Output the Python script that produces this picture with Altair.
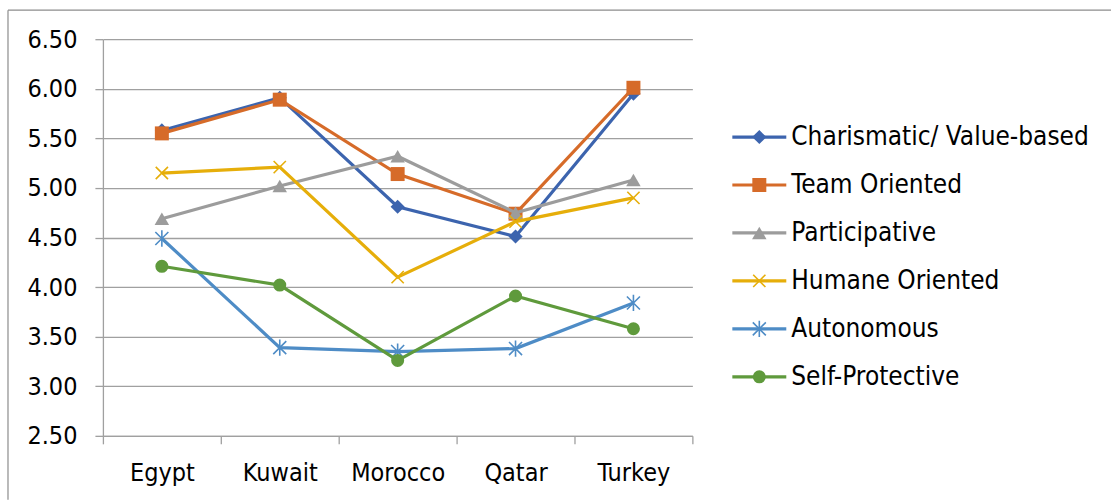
import altair as alt
import pandas as pd

# Leadership dimension scores by country
countries = ["Egypt", "Kuwait", "Morocco", "Qatar", "Turkey"]
series_names = [
    "Charismatic/ Value-based",
    "Team Oriented",
    "Participative",
    "Humane Oriented",
    "Autonomous",
    "Self-Protective",
]
charismatic = [5.58, 5.91, 4.81, 4.51, 5.95]
team_oriented = [5.55, 5.89, 5.14, 4.74, 6.01]
participative = [4.69, 5.02, 5.32, 4.75, 5.08]
humane_oriented = [5.15, 5.21, 4.10, 4.66, 4.90]
autonomous = [4.49, 3.39, 3.35, 3.38, 3.84]
self_protective = [4.21, 4.02, 3.26, 3.91, 3.58]
y_ticks = [2.5, 3.0, 3.5, 4.0, 4.5, 5.0, 5.5, 6.0, 6.5]

series_values = [charismatic, team_oriented, participative,
                 humane_oriented, autonomous, self_protective]

# marker styles per series
X_PATH = "M-1,-1L1,1M-1,1L1,-1"
STAR_PATH = "M-1,-1L1,1M-1,1L1,-1M0,-1.25L0,1.25"
colors = ["#3C64AE", "#D66B29", "#9C9C9C", "#E6AE0A", "#4E8CC6", "#5F9A3C"]
shapes = ["diamond", "square", "triangle-up", X_PATH, STAR_PATH, "circle"]
filled = [True, True, True, False, False, True]
sizes = [200, 196, 210, 150, 170, 170]

FONT = "DejaVu Sans Condensed, DejaVu Sans"
GRID = "#A0A0A0"

rows = []
for name, vals in zip(series_names, series_values):
    for country, v in zip(countries, vals):
        rows.append({"series": name, "country": country, "value": v})
df = pd.DataFrame(rows)
legend_df = pd.DataFrame({"series": series_names,
                          "row": list(range(len(series_names)))})
frame_df = pd.DataFrame({"frame": [0]})

x_enc = alt.X(
    "country:N",
    sort=countries,
    scale=alt.Scale(type="band", paddingInner=0, paddingOuter=0),
    axis=alt.Axis(
        title=None, labelAngle=0, tickBand="extent", grid=False,
        domainColor=GRID, domainWidth=1.3, tickColor=GRID, tickWidth=1.3,
        tickSize=8, labelPadding=17, labelFontSize=25, labelFont=FONT,
        labelColor="#000000",
    ),
)
y_enc = alt.Y(
    "value:Q",
    scale=alt.Scale(domain=[2.5, 6.5], nice=False, zero=False),
    axis=alt.Axis(
        title=None, values=y_ticks, format=".2f", grid=True,
        gridColor=GRID, gridWidth=1.3, domainColor=GRID, domainWidth=1.3,
        tickColor=GRID, tickWidth=1.3, tickSize=8, labelPadding=18,
        labelFontSize=25, labelFont=FONT, labelColor="#000000",
    ),
)

main_layers = []
for name, c, shp, fil, sz in zip(series_names, colors, shapes, filled, sizes):
    base = alt.Chart(df).transform_filter(alt.datum.series == name)
    main_layers.append(
        base.mark_line(color=c, strokeWidth=3.2).encode(x=x_enc, y=y_enc)
    )
    main_layers.append(
        base.mark_point(shape=shp, size=sz, filled=fil, color=c,
                        strokeWidth=1.6, opacity=1).encode(x=x_enc, y=y_enc)
    )
main = alt.layer(*main_layers)

# legend rows: short line, marker, label (row 0 at the top)
leg_y = alt.Y(
    "row:Q", axis=None,
    scale=alt.Scale(domain=[-2.04, 6.23], reverse=True, nice=False, zero=False),
)
legend_layers = []
for name, c, shp, fil, sz in zip(series_names, colors, shapes, filled, sizes):
    lb = alt.Chart(legend_df).transform_filter(alt.datum.series == name)
    legend_layers.append(
        lb.mark_rule(color=c, strokeWidth=3.2).encode(
            x=alt.value(630), x2=alt.value(684), y=leg_y)
    )
    legend_layers.append(
        lb.mark_point(shape=shp, size=sz, filled=fil, color=c,
                      strokeWidth=1.6, opacity=1).encode(
            x=alt.value(657), y=leg_y)
    )
legend_layers.append(
    alt.Chart(legend_df).mark_text(
        align="left", baseline="middle", fontSize=26, font=FONT,
        color="#000000",
    ).encode(x=alt.value(689), y=leg_y, text="series:N")
)

# chart-area frame (top and left edges)
frame_top = alt.Chart(frame_df).mark_rule(color="#8C8C8C", strokeWidth=1.2).encode(
    x=alt.value(-95), x2=alt.value(1009), y=alt.value(-29))
frame_left = alt.Chart(frame_df).mark_rule(color="#8C8C8C", strokeWidth=1.2).encode(
    x=alt.value(-95), y=alt.value(-29), y2=alt.value(461))

legend = alt.layer(*legend_layers, frame_top, frame_left)

chart = (
    alt.layer(main, legend)
    .resolve_scale(y="independent")
    .properties(
        width=590, height=397,
        padding={"left": 7, "top": 9, "right": 0, "bottom": 0},
        background="white",
    )
    .configure_view(stroke=None)
)

chart.save("out.html", embed_options={"renderer": "svg", "actions": False})
